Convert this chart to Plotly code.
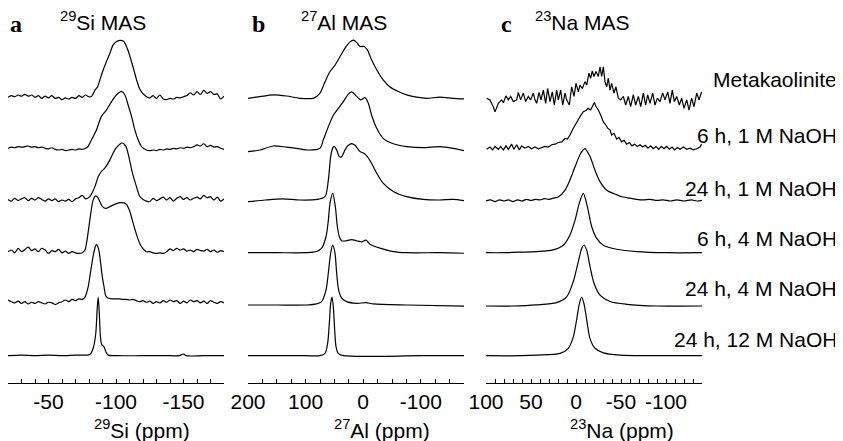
import plotly.graph_objects as go

# ---- data: (ppm, normalised intensity) ----
row_labels = ["Metakaolinite", "6 h, 1 M NaOH", "24 h, 1 M NaOH",
              "6 h, 4 M NaOH", "24 h, 4 M NaOH", "24 h, 12 M NaOH"]

si_meta = [
    (-20, 0.00), (-22.5, 0.03), (-25, 0.01), (-27.5, 0.04), (-30, 0.02), (-32.5, 0.05), (-35, 0.02),
    (-37.5, 0.04), (-40, 0.00), (-42.5, 0.03), (-45, -0.02), (-47.5, 0.02), (-50, -0.01), (-52.5, 0.03),
    (-55, -0.02), (-57.5, 0.00), (-60, -0.04), (-62.5, -0.01), (-65, -0.03), (-67.5, 0.00), (-70, -0.02),
    (-72.5, 0.03), (-75, 0.00), (-77.5, 0.04), (-80, 0.01),
    (-82, 0.02), (-84.5, 0.13), (-86.3, 0.18), (-88, 0.30), (-90.5, 0.48), (-93, 0.63), (-95.4, 0.77),
    (-97.9, 0.92), (-100.4, 0.98), (-103.3, 1.00), (-105.8, 0.98), (-108.3, 0.86), (-110.8, 0.68),
    (-113.2, 0.48), (-115.7, 0.27), (-117.7, 0.14), (-120.1, 0.06), (-122.6, 0.01),
    (-125, -0.01), (-127.5, 0.03), (-130, -0.02), (-132.5, 0.04), (-135, -0.03), (-137.5, -0.04),
    (-140, -0.02), (-142.5, -0.03), (-145, 0.00), (-147.5, -0.01), (-150, 0.01), (-152.5, 0.03),
    (-155, 0.08), (-157.5, 0.04), (-160, 0.10), (-162.5, 0.05), (-165, 0.12), (-167.5, 0.07),
    (-170, 0.10), (-172.5, 0.05), (-175, 0.06), (-177.5, -0.03), (-180, 0.02),
]
si_6h_1m = [
    (-20, 0.00), (-22.5, 0.02), (-25, 0.01), (-27.5, 0.03), (-30, 0.02), (-32.5, 0.03), (-35, 0.04),
    (-37.5, 0.02), (-40, 0.03), (-42.5, 0.01), (-45, 0.02), (-47.5, 0.00), (-50, -0.01), (-52.5, 0.01),
    (-55, -0.02), (-57.5, -0.03), (-60, -0.02), (-62.5, -0.04), (-65, -0.03), (-67.5, -0.02), (-70, -0.03),
    (-72.5, -0.01), (-75, -0.02), (-77.5, 0.00),
    (-79.3, 0.03), (-80.6, 0.09), (-83, 0.20), (-85.5, 0.32), (-89.2, 0.56), (-92.9, 0.67), (-96.7, 0.82),
    (-100.4, 0.94), (-104.1, 1.00), (-106.5, 0.94), (-109, 0.76), (-111.5, 0.56), (-114, 0.32),
    (-116.4, 0.15), (-118.9, 0.03), (-122.5, -0.03),
    (-125, -0.04), (-127.5, -0.03), (-130, -0.04), (-132.5, -0.02), (-135, -0.03), (-137.5, -0.01),
    (-140, -0.02), (-142.5, 0.00), (-145, -0.01), (-147.5, 0.01), (-150, 0.00), (-152.5, 0.02),
    (-155, 0.01), (-157.5, 0.03), (-160, 0.06), (-162.5, 0.04), (-165, 0.08), (-167.5, 0.03),
    (-170, 0.05), (-172.5, 0.02), (-175, 0.03), (-177.5, 0.00), (-180, -0.02),
]
si_24h_1m = [
    (-20, 0.01), (-22.5, -0.02), (-25, 0.03), (-27.5, -0.01), (-30, 0.02), (-32.5, 0.04), (-35, -0.01),
    (-37.5, 0.03), (-40, 0.00), (-42.5, 0.04), (-45, 0.01), (-47.5, -0.02), (-50, 0.02), (-52.5, -0.01),
    (-55, 0.02), (-57.5, -0.03), (-60, 0.00), (-62.5, -0.02), (-65, 0.01), (-67.5, -0.03), (-70, 0.02),
    (-72.5, 0.04), (-75, 0.08), (-77.5, 0.02),
    (-80.6, 0.06), (-84.3, 0.23), (-86.8, 0.41), (-89.2, 0.50), (-91.7, 0.56), (-95.4, 0.70),
    (-99.1, 0.88), (-102.8, 0.98), (-104.8, 1.00), (-107.3, 0.94), (-109.8, 0.73), (-112.2, 0.47),
    (-115.2, 0.23), (-117.7, 0.06), (-120.1, 0.01),
    (-122.5, -0.02), (-125, -0.03), (-127.5, 0.03), (-130, -0.01), (-132.5, 0.02), (-135, 0.05),
    (-137.5, 0.00), (-140, 0.04), (-142.5, -0.02), (-145, 0.03), (-147.5, 0.06), (-150, 0.01),
    (-152.5, 0.04), (-155, 0.00), (-157.5, 0.03), (-160, 0.05), (-162.5, 0.02), (-165, 0.08),
    (-167.5, 0.04), (-170, 0.06), (-172.5, 0.00), (-175, 0.05), (-177.5, -0.02), (-180, 0.02),
]
si_6h_4m = [
    (-20, 0.00), (-22.5, 0.03), (-25, -0.02), (-27.5, 0.06), (-30, 0.00), (-32.5, 0.04), (-35, 0.08),
    (-37.5, 0.02), (-40, 0.05), (-42.5, 0.00), (-45, 0.06), (-47.5, 0.03), (-50, -0.03), (-52.5, 0.02),
    (-55, 0.00), (-57.5, 0.04), (-60, -0.02), (-62.5, 0.01), (-65, -0.03), (-67.5, 0.00), (-70, -0.02),
    (-72.5, -0.03),
    (-75, -0.02), (-77, 0.03), (-78.5, 0.20), (-80, 0.45), (-81.5, 0.70), (-83, 0.90), (-85, 0.98),
    (-86.5, 0.95), (-88, 0.88), (-90, 0.79), (-92.5, 0.76), (-95.4, 0.79), (-99.1, 0.83), (-102.8, 0.86),
    (-104.8, 0.86), (-106.5, 0.85), (-108, 0.82), (-110.3, 0.70), (-112.7, 0.50), (-115.2, 0.30),
    (-117.7, 0.14), (-120.1, 0.05), (-122.6, 0.00),
    (-125, 0.00), (-127.5, -0.02), (-130, -0.03), (-132.5, -0.02), (-135, -0.03), (-137.5, 0.00),
    (-140, 0.05), (-142.5, 0.02), (-145, 0.06), (-147.5, 0.03), (-150, 0.05), (-152.5, 0.01),
    (-155, 0.03), (-157.5, 0.00), (-160, 0.04), (-162.5, 0.02), (-165, 0.01), (-167.5, 0.04),
    (-170, 0.00), (-172.5, 0.03), (-175, -0.01), (-177.5, 0.02), (-180, 0.00),
]
si_24h_4m = [
    (-20, 0.03), (-22.5, 0.00), (-25, -0.02), (-27.5, 0.01), (-30, -0.03), (-32.5, 0.00), (-35, -0.04),
    (-37.5, -0.01), (-40, -0.03), (-42.5, 0.00), (-45, -0.02), (-47.5, -0.04), (-50, -0.01), (-52.5, -0.02),
    (-55, -0.05), (-57.5, -0.02), (-60, 0.00), (-62.5, 0.03), (-65, 0.00), (-67.5, 0.04), (-70, 0.02),
    (-72.5, 0.05),
    (-75, 0.04), (-77, 0.08), (-79.3, 0.25), (-81, 0.50), (-83, 0.79), (-84.5, 0.95), (-85.5, 1.00),
    (-86.5, 0.97), (-87.5, 0.88), (-88.5, 0.70), (-89.8, 0.45), (-91, 0.28), (-92.5, 0.10), (-94.5, 0.06),
    (-97, 0.05),
    (-100, 0.05), (-102.5, 0.05), (-105, 0.04), (-107.5, 0.04), (-110, 0.03), (-112.5, 0.04), (-115, 0.02),
    (-117.5, 0.00), (-120, 0.02), (-122.5, -0.01), (-125, 0.01), (-127.5, -0.03), (-130, 0.00),
    (-132.5, -0.02), (-135, 0.02), (-137.5, -0.01), (-140, 0.03), (-142.5, 0.00), (-145, 0.02),
    (-147.5, -0.03), (-150, 0.01), (-152.5, -0.02), (-155, 0.03), (-157.5, 0.00), (-160, 0.02),
    (-162.5, -0.02), (-165, 0.01), (-167.5, -0.03), (-170, 0.02), (-172.5, -0.01), (-175, -0.03),
    (-177.5, 0.00), (-180, -0.02),
]
si_24h_12m = [
    (-20, 0.00), (-30, 0.01), (-40, 0.00), (-50, 0.01), (-60, 0.00), (-70, 0.01), (-78, 0.01),
    (-80.6, 0.02), (-83.1, 0.13), (-85, 0.39), (-86, 0.80), (-86.8, 1.03), (-87.5, 0.80), (-88.5, 0.33),
    (-89.5, 0.19), (-91, 0.16), (-92.5, 0.07), (-94.2, 0.01), (-100, 0.00), (-120, 0.00), (-140, 0.00),
    (-147, 0.00), (-149.8, 0.03), (-152, 0.00), (-165, 0.00), (-180, 0.00),
]

al_meta = [
    (200, 0.00), (179, 0.03), (156, 0.06), (133, 0.04), (110, 0.00), (87, 0.00), (81, 0.03), (75, 0.09),
    (66.3, 0.29), (57.6, 0.47), (49, 0.58), (40.3, 0.73), (31.6, 0.88), (22.9, 0.99), (17, 1.02),
    (11.3, 0.98), (5.6, 0.91), (-1.4, 0.91), (-7.2, 0.85), (-14.7, 0.67), (-23.4, 0.50), (-35, 0.32),
    (-46.5, 0.20), (-61, 0.12), (-75.5, 0.06), (-92.8, 0.02), (-110, 0.00), (-133, 0.02), (-156, 0.00),
    (-175, -0.01),
]
al_6h_1m = [
    (200, -0.03), (179, 0.00), (156, 0.07), (133, 0.05), (110, 0.02), (98, 0.00), (75, 0.03),
    (69.2, 0.18), (60.5, 0.41), (51.9, 0.61), (43.2, 0.73), (34.5, 0.85), (25.8, 0.98), (20, 1.02),
    (11.3, 0.94), (4.4, 0.88), (-3.1, 0.92), (-8.9, 0.82), (-14.7, 0.61), (-23.4, 0.38), (-35, 0.20),
    (-52.3, 0.11), (-75.5, 0.06), (-104, 0.04), (-133, 0.06), (-156, 0.03), (-175, -0.01),
]
al_24h_1m = [
    (200, -0.03), (170, 0.00), (140, 0.02), (110, 0.00), (80, 0.01), (66.3, 0.06), (60.5, 0.35),
    (56.5, 0.76), (53, 0.91), (50.7, 0.94), (46.1, 0.88), (41.4, 0.76), (37.4, 0.76), (31.6, 0.88),
    (25.8, 0.96), (20, 0.99), (14.2, 0.96), (5.6, 0.85), (-1.4, 0.82), (-7.2, 0.76), (-14.7, 0.64),
    (-23.4, 0.47), (-35, 0.29), (-52.3, 0.15), (-75.5, 0.06), (-104, 0.01), (-133, 0.00), (-156, 0.01),
    (-175, -0.01),
]
al_6h_4m = [
    (200, 0.00), (150, 0.00), (100, 0.00), (80.8, 0.02), (72.1, 0.08), (64.6, 0.28), (60.5, 0.57),
    (57.6, 0.87), (53, 1.04), (48.4, 0.81), (44.9, 0.46), (41.4, 0.28), (37.4, 0.21), (28.7, 0.21),
    (20, 0.23), (11.3, 0.21), (2.7, 0.19), (-4.9, 0.22), (-11.8, 0.15), (-29.2, 0.08), (-52.3, 0.02),
    (-75.5, 0.00), (-133, 0.00), (-175, -0.01),
]
al_24h_4m = [
    (200, 0.00), (150, 0.00), (100, 0.00), (80.8, 0.02), (72.1, 0.06), (64.6, 0.26), (60, 0.61),
    (56.5, 0.91), (53, 1.05), (49, 0.91), (46.1, 0.56), (42.6, 0.26), (37.4, 0.12), (28.7, 0.06),
    (11.3, 0.03), (-4.9, 0.04), (-17.6, 0.02), (-75.5, 0.00), (-175, -0.02),
]
al_24h_12m = [
    (200, 0.00), (100, 0.00), (75, 0.00), (66.3, 0.04), (61.7, 0.22), (58.8, 0.57), (56.5, 0.92),
    (54.2, 1.03), (51.9, 0.86), (49.5, 0.45), (47.2, 0.16), (43.2, 0.04), (34.5, 0.00), (-100, 0.00),
    (-175, 0.00),
]

na_meta = [
    (99.3, 0.09), (95.6, 0.06), (91.9, -0.06), (90.0, -0.15), (86.3, 0.00), (82.6, 0.06), (80.7, 0.01),
    (77.8, 0.13), (75.2, 0.06), (72.6, 0.12), (69.6, 0.03), (65.9, 0.06), (64.1, 0.19), (61.5, 0.06),
    (58.5, 0.18), (55.9, 0.03), (53.0, 0.12), (50.4, 0.06), (47.4, 0.18), (45.6, 0.06), (43.7, 0.00),
    (41.1, 0.19), (38.9, 0.06), (36.3, 0.23), (33.7, 0.00), (31.5, 0.26), (28.9, 0.03), (26.3, 0.20),
    (24.1, -0.03), (21.5, 0.23), (19.6, 0.06), (17.0, 0.23), (14.8, -0.03), (12.2, 0.18), (10.4, 0.06),
    (7.4, -0.03), (4.8, 0.29), (2.2, 0.12), (0.0, 0.35), (-2.6, 0.20), (-4.4, 0.32), (-7.0, 0.26),
    (-10.0, 0.38), (-11.9, 0.32), (-14.4, 0.53), (-16.3, 0.44), (-18.1, 0.57), (-20.0, 0.47),
    (-22.2, 0.56), (-24.8, 0.47), (-26.7, 0.64), (-28.5, 0.47), (-30.4, 0.64), (-32.2, 0.38),
    (-34.1, 0.29), (-35.9, 0.44), (-37.8, 0.23), (-39.6, 0.35), (-42.2, 0.18), (-44.4, 0.29),
    (-47.0, 0.09), (-49.6, 0.06), (-52.6, 0.12), (-55.2, -0.03), (-58.1, 0.12), (-60.7, -0.06),
    (-63.7, 0.15), (-66.3, -0.03), (-69.3, 0.12), (-71.9, -0.06), (-74.8, 0.18), (-77.4, -0.03),
    (-79.6, 0.15), (-82.2, 0.00), (-85.2, 0.18), (-87.8, -0.03), (-90.4, 0.09), (-93.3, 0.03),
    (-96.3, 0.18), (-98.9, 0.06), (-101.9, 0.20), (-104.4, 0.00), (-107.0, 0.23), (-109.3, 0.03),
    (-111.9, 0.12), (-114.8, -0.03), (-117.4, 0.09), (-120.0, -0.09), (-123.0, 0.06), (-125.6, -0.12),
    (-128.5, 0.09), (-131.1, -0.06), (-134.1, 0.18), (-136.7, 0.06), (-139.6, 0.20),
]
na_6h_1m = [
    (99.3, 0.00), (95.6, 0.04), (92.6, -0.01), (90.0, 0.05), (86.3, 0.00), (83.7, 0.05), (80.7, -0.01),
    (77.8, 0.06), (75.2, 0.00), (71.5, 0.09), (68.9, 0.00), (65.9, 0.08), (63.0, -0.01), (60.4, 0.06),
    (56.7, 0.02), (53.0, 0.05), (49.3, 0.01), (45.6, 0.04), (41.9, 0.01), (38.1, 0.03), (34.4, 0.05),
    (30.7, 0.04), (27.0, 0.08), (23.3, 0.09), (19.6, 0.12), (15.9, 0.13), (12.2, 0.19), (9.6, 0.18),
    (6.7, 0.25), (3.0, 0.37), (-0.7, 0.48), (-4.4, 0.57), (-8.1, 0.66), (-11.1, 0.68), (-13.7, 0.72),
    (-16.3, 0.69), (-18.5, 0.76), (-20.4, 0.82), (-22.2, 0.75), (-24.8, 0.69), (-27.4, 0.60),
    (-30.4, 0.48), (-33.0, 0.43), (-35.2, 0.37), (-37.8, 0.34), (-39.6, 0.25), (-42.2, 0.28),
    (-45.2, 0.18), (-47.8, 0.21), (-50.7, 0.13), (-53.3, 0.16), (-56.3, 0.09), (-59.3, 0.12),
    (-62.2, 0.06), (-65.2, 0.09), (-68.1, 0.05), (-71.1, 0.08), (-74.1, 0.04), (-77.0, 0.07),
    (-80.0, 0.02), (-83.0, 0.06), (-85.9, 0.01), (-88.9, 0.05), (-91.9, 0.00), (-94.8, 0.05),
    (-97.8, 0.01), (-100.7, 0.05), (-103.7, 0.00), (-106.7, 0.04), (-109.6, -0.01), (-112.6, 0.03),
    (-115.6, 0.00), (-119.3, 0.04), (-123.0, 0.00), (-126.7, 0.02), (-130.4, -0.01), (-134.1, 0.01),
    (-137.8, 0.04), (-139.6, 0.09),
]
na_24h_1m = [
    (100, 0.00), (95, 0.02), (90, -0.01), (85, 0.02), (80, 0.00), (75, 0.02), (70, -0.01), (65, 0.02),
    (60, 0.00), (55, 0.03), (50, 0.01), (45, 0.03), (40, 0.02), (35, 0.04), (30, 0.03), (25.2, 0.05),
    (19.6, 0.07), (12.2, 0.19), (6.7, 0.37), (1.1, 0.60), (-4.4, 0.81), (-7.5, 0.89), (-10, 0.92),
    (-12, 0.88), (-15.6, 0.78), (-21.1, 0.54), (-26.7, 0.34), (-34.1, 0.19), (-45.2, 0.11), (-52, 0.07),
    (-60, 0.05), (-67, 0.03), (-75, 0.02), (-82, 0.03), (-90, 0.01), (-97, 0.02), (-105, 0.00),
    (-112, 0.02), (-120, 0.00), (-128, 0.02), (-135, 0.00), (-140, 0.01),
]
na_6h_4m = [
    (100, 0.00), (80, 0.00), (60, 0.01), (43.7, 0.02), (25.2, 0.05), (14.1, 0.13), (6.7, 0.31),
    (1.1, 0.57), (-3.7, 0.87), (-8.1, 1.04), (-12.6, 0.81), (-17.4, 0.46), (-23, 0.25), (-30.4, 0.13),
    (-45.2, 0.06), (-67.4, 0.02), (-100, 0.00), (-140, 0.00),
]
na_24h_4m = [
    (100, 0.00), (70, 0.00), (43.7, 0.02), (21.5, 0.06), (10.4, 0.16), (3.0, 0.43), (-2.6, 0.78),
    (-6.3, 1.01), (-8.9, 1.07), (-11.9, 0.98), (-15.6, 0.69), (-20, 0.40), (-26.7, 0.19), (-37.8, 0.08),
    (-56.3, 0.03), (-90, 0.00), (-140, 0.00),
]
na_24h_12m = [
    (100, 0.00), (60, 0.00), (43.7, 0.01), (17.8, 0.04), (8.5, 0.13), (3.0, 0.33), (-0.7, 0.63),
    (-3.7, 0.91), (-6.3, 1.03), (-8.9, 0.91), (-11.9, 0.63), (-15.6, 0.30), (-21.1, 0.13), (-30.4, 0.05),
    (-48.9, 0.01), (-80, 0.00), (-140, 0.00),
]

si_ticks = [-50, -100, -150]
al_ticks = [200, 100, 0, -100]
na_ticks = [100, 50, 0, -50, -100]

# ---- layout constants: positions are screen pixels of the 843x441 window ----
W, H = 843, 441
PAD = 8           # the page body margin puts the figure 8 px in from the window corner
AXIS_Y = 383      # row of the x axis lines
UNIT = 57         # height of a normalised peak in px
FONT = "Liberation Sans, Arial, sans-serif"
SERIF = "Liberation Serif, Times New Roman, serif"


def px(x):
    return (x - PAD) / W


def py(y):
    return 1 - (y - PAD) / H


panels = [
    dict(ax="x", spectra=[si_meta, si_6h_1m, si_24h_1m, si_6h_4m, si_24h_4m, si_24h_12m],
         rows=[97.3, 148.3, 200, 251.7, 301.7, 355.7], rng=[-20, -180], ticks=si_ticks, minor=10,
         dom=(8, 224), title="<sup>29</sup>Si (ppm)", title_x=142, letter="a", letter_x=16,
         head="<sup>29</sup>Si MAS", head_x=103, noisy=[]),
    dict(ax="x2", spectra=[al_meta, al_6h_1m, al_24h_1m, al_6h_4m, al_24h_4m, al_24h_12m],
         rows=[98.3, 150, 200, 252.7, 305, 355.7], rng=[200, -175], ticks=al_ticks, minor=25,
         dom=(248, 464), title="<sup>27</sup>Al (ppm)", title_x=382, letter="b", letter_x=258,
         head="<sup>27</sup>Al MAS", head_x=344, noisy=[]),
    dict(ax="x3", spectra=[na_meta, na_6h_1m, na_24h_1m, na_6h_4m, na_24h_4m, na_24h_12m],
         rows=[103.3, 149.3, 201, 252.7, 306, 355.7], rng=[100, -140], ticks=na_ticks, minor=10,
         dom=(486, 702), title="<sup>23</sup>Na (ppm)", title_x=622, letter="c", letter_x=506,
         head="<sup>23</sup>Na MAS", head_x=582, noisy=[0, 1]),
]

fig = go.Figure()
annotations = []
layout_axes = {}

for p in panels:
    for i, spec in enumerate(p["spectra"]):
        ppm, inten = zip(*spec)
        y = [AXIS_Y - p["rows"][i] + UNIT * v for v in inten]
        shape = "linear" if i in p["noisy"] else "spline"
        fig.add_trace(go.Scatter(
            x=list(ppm), y=y, xaxis=p["ax"], yaxis="y", mode="lines",
            line=dict(color="black", width=1.2, shape=shape, smoothing=0.8),
            showlegend=False, hoverinfo="skip"))

    key = "xaxis" if p["ax"] == "x" else "xaxis" + p["ax"][1:]
    layout_axes[key] = dict(
        domain=[px(p["dom"][0]), px(p["dom"][1])], anchor="y", range=p["rng"],
        showline=True, linecolor="black", linewidth=1, showgrid=False, zeroline=False,
        tickmode="array", tickvals=p["ticks"], ticktext=[str(t) for t in p["ticks"]],
        ticks="inside", ticklen=4, tickcolor="black", tickwidth=1, automargin=False,
        minor=dict(tickmode="linear", tick0=0, dtick=p["minor"], ticks="inside",
                   ticklen=4, tickcolor="black", tickwidth=1, showgrid=False),
        tickfont=dict(family=FONT, size=21, color="black"), fixedrange=True,
    )
    annotations.append(dict(x=px(p["title_x"]), y=py(429), xref="paper", yref="paper",
                            text=p["title"], showarrow=False, xanchor="center", yanchor="middle",
                            font=dict(family=FONT, size=21, color="black")))
    annotations.append(dict(x=px(p["head_x"]), y=py(21), xref="paper", yref="paper",
                            text=p["head"], showarrow=False, xanchor="center", yanchor="middle",
                            font=dict(family=FONT, size=21, color="black")))
    annotations.append(dict(x=px(p["letter_x"]), y=py(24), xref="paper", yref="paper",
                            text="<b>" + p["letter"] + "</b>", showarrow=False,
                            xanchor="center", yanchor="middle",
                            font=dict(family=SERIF, size=24, color="black")))

label_rows = [79.5, 135.5, 188, 238.5, 288, 339.5]
for txt, row in zip(row_labels, label_rows):
    annotations.append(dict(x=px(839), y=py(row), xref="paper", yref="paper", text=txt,
                            showarrow=False, xanchor="right", yanchor="middle",
                            font=dict(family=FONT, size=21, color="black")))

fig.update_layout(
    width=W, height=H, autosize=False,
    margin=dict(l=0, r=0, t=0, b=0, pad=0, autoexpand=False),
    paper_bgcolor="white", plot_bgcolor="white",
    yaxis=dict(domain=[py(AXIS_Y), 1], range=[0, AXIS_Y - PAD], visible=False, fixedrange=True,
               automargin=False),
    annotations=annotations,
    **layout_axes,
)

fig.write_html("out.html")
